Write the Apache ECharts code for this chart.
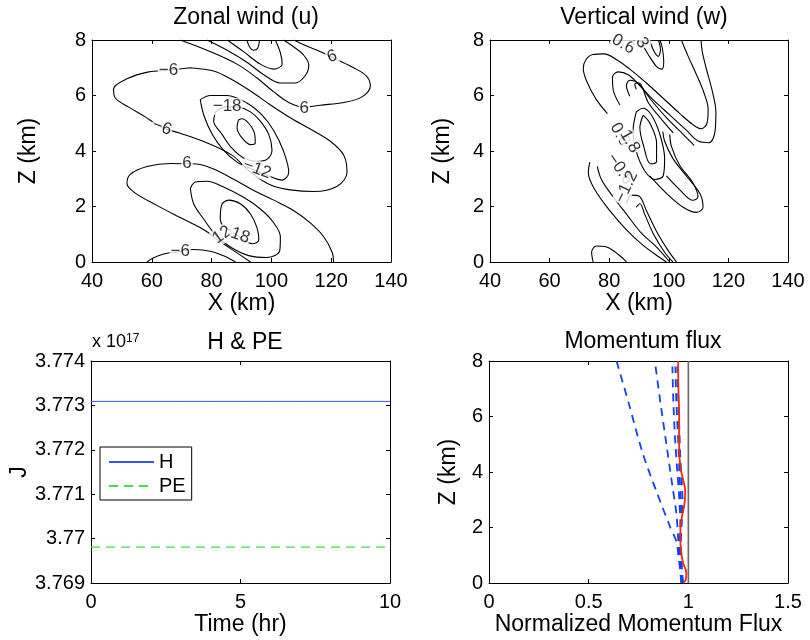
<!DOCTYPE html>
<html><head><meta charset="utf-8">
<script src="https://cdn.jsdelivr.net/npm/echarts@6/dist/echarts.min.js"></script>
<style>html,body{margin:0;padding:0;background:#fff}#c{width:810px;height:640px}</style>
</head><body><div id="c"></div>
<script>
// ---------- Zonal wind (u) contour lines: [x km, z km] ----------
const uPos6Top = [[69.5,8],[79.6,7.58],[88.5,7.13],[95.2,6.63],[100.8,6.13],[105.8,5.75],[110.8,5.58],[116.4,5.65],[124.2,5.75],[130.3,5.95],[133.1,6.35],[131.8,6.7],[127.5,7.0],[122.0,7.29],[116.4,7.58],[111.4,7.8],[107.5,8]];
const uPos12Top = [[78.5,8],[85.2,7.63],[91.8,7.2],[97.4,6.75],[103.0,6.45],[108.0,6.45],[111.4,6.73],[112.5,7.1],[110.6,7.48],[107.5,7.75],[104.1,8]];
const uPos18Top = [[85.2,8],[90.7,7.58],[96.3,7.13],[100.8,6.95],[103.6,7.13],[103.0,7.54],[101.3,8]];
const uPos24Top = [[91.8,8],[92.7,7.75],[94.0,7.63],[95.4,7.7],[96.0,8]];
const uNeg6Mid = [[72.9,7.0],[65.6,6.91],[59.0,6.85],[51.7,6.6],[47.2,6.23],[47.8,5.91],[52.3,5.58],[57.8,5.23],[63.4,4.85],[69.5,4.64],[78.5,4.29],[86.8,3.85],[91.8,3.35],[96.3,2.98],[100.8,2.73],[106.3,2.6],[114.1,2.54],[122.0,2.73],[125.3,3.23],[124.2,3.85],[119.7,4.35],[113.0,4.79],[106.3,5.2],[99.7,5.66],[93.0,6.16],[86.3,6.6],[80.7,6.88],[72.9,7.0]];
const uNeg12Mid = [[76.2,5.85],[77.4,5.29],[80.2,4.6],[83.9,4.04],[88.5,3.6],[93.5,3.35],[99.1,3.1],[103.6,2.95],[105.8,3.23],[104.1,3.98],[100.8,4.73],[96.9,5.29],[91.8,5.73],[85.2,6.0],[79.6,6.0],[76.2,5.85]];
const uNeg18Mid = [[81.3,5.41],[80.7,5.08],[83.5,4.6],[86.8,4.1],[90.7,3.75],[95.2,3.63],[98.5,3.7],[100.2,4.04],[99.1,4.6],[96.3,5.08],[93.0,5.41],[89.0,5.58],[85.2,5.6],[81.3,5.41]];
const uNeg24Mid = [[89.0,5.12],[88.5,4.85],[90.1,4.48],[93.0,4.23],[94.6,4.29],[94.3,4.66],[92.4,5.0],[90.1,5.16],[89.0,5.12]];
const uPos6Low = [[120.8,0],[120.3,0.35],[117.5,0.91],[113.0,1.41],[107.5,1.85],[100.8,2.23],[94.1,2.58],[87.4,2.98],[80.7,3.35],[75.1,3.53],[71.8,3.54],[66.2,3.55],[58.4,3.44],[52.8,3.16],[51.7,2.83],[54.5,2.48],[61.7,2.04],[69.5,1.6],[77.4,1.16],[82.9,0.73],[88.5,0.33],[93.0,0]];
const uPos12Low = [[72.9,2.66],[74.0,2.1],[77.4,1.54],[81.3,0.98],[86.3,0.54],[92.4,0.23],[98.5,0.16],[102.8,0.41],[103.0,0.91],[100.5,1.45],[96.3,1.91],[90.7,2.33],[84.0,2.7],[78.5,2.91],[74.6,2.88],[72.9,2.66]];
const uPos18Low = [[82.9,1.54],[83.3,2.04],[85.7,2.23],[89.6,2.1],[93.0,1.73],[95.2,1.23],[95.8,0.79],[93.5,0.66],[89.6,0.88],[86.3,1.13],[83.5,1.35],[82.9,1.54]];
const uNeg6Bot = [[58.4,0],[60.1,0.13],[64.0,0.29],[69.5,0.38],[74.0,0.45],[79.6,0.39],[84.6,0.2],[88.0,0]];
const uLabels = [[120.3,7.41,'6'],[65.6,6.91,'\u22126'],[111.0,5.54,'6'],[85.2,5.6,'\u221218'],[63.4,4.85,'\u22126'],[95.2,3.35,'\u221212'],[71.8,3.54,'6'],[83.5,0.98,'12'],[89.6,0.95,'18'],[69.5,0.38,'\u22126']];
const uLabelTilt = [20,0,0,0,-20,-20,0,35,-20,0];

// ---------- Vertical wind (w) contour lines ----------
const wA1 = [[90.3,8],[93.1,7.475],[95.9,7.04],[97.6,6.95],[98.3,7.225],[97.8,7.73],[97.0,8]];
const wA2 = [[93.6,8],[95.0,7.6],[96.5,7.41],[97.2,7.66],[96.5,8]];
const wC1 = [[79.4,5.35],[75.7,5.85],[72.6,6.475],[71.3,6.975],[72.2,7.29],[74.6,7.475],[78.2,7.5],[82.4,7.3],[86.9,6.95],[92.5,6.45],[98.1,5.9],[103.7,5.35],[108.1,4.95],[110.9,4.8],[112.8,5.0],[113.2,5.5],[111.8,6.1],[109.3,6.75],[106.5,7.41],[104.2,8]];
const wC2 = [[83.6,5.66],[81.3,6.225],[81.1,6.66],[83.0,6.85],[86.4,6.75],[90.3,6.35],[94.7,5.85],[100.3,5.3],[105.9,4.75],[110.0,4.35],[113.5,4.3],[115.5,4.7],[115.8,5.4],[114.5,6.2],[112.5,7.0],[111.2,7.6],[110.8,8]];
const wC3 = [[86.9,5.975],[85.8,6.35],[86.9,6.55],[89.7,6.45],[93.6,5.9],[99.2,5.2],[104.8,4.6],[108.5,4.2]];
const wC4 = [[89.1,6.225],[88.6,6.4],[90.0,6.45],[93.1,5.75],[97.5,5.15],[101.5,4.65]];
const wE1 = [[91.4,5.29],[90.3,4.85],[91.6,4.16],[93.8,3.54],[95.9,3.625],[95.9,4.29],[93.8,4.975],[91.4,5.29]];
const wE2 = [[89.1,5.41],[88.0,4.725],[89.1,3.975],[91.9,3.29],[95.3,2.975],[98.1,3.1],[98.6,3.725],[97.0,4.6],[94.2,5.29],[91.4,5.54],[89.1,5.41]];
const wL1 = [[73.5,3.6],[73.0,3.225],[75.2,2.6],[80.2,1.85],[85.8,1.16],[91.4,0.6],[97.0,0.16],[99.2,0]];
const wL2 = [[76.0,3.45],[77.4,2.975],[81.3,2.35],[85.8,1.725],[90.8,1.04],[95.9,0.54],[100.3,0]];
const wR1 = [[93.6,3.1],[99.2,2.475],[104.8,1.975],[109.3,1.79],[111.5,1.975],[110.4,2.475],[105.9,3.1],[101.4,3.725],[98.6,4.35],[98.0,4.7]];
const wR2 = [[99.2,3.1],[103.7,2.6],[108.1,2.225],[109.8,2.35],[108.1,2.85],[103.7,3.475],[100.9,4.16],[100.3,4.6]];
const wB1 = [[74.6,0],[74.1,0.35],[75.7,0.575],[79.1,0.54],[83.6,0.225],[85.8,0]];
const wN1 = [[85.8,2.1],[87.5,2.41],[90.0,2.375],[92.5,1.85],[95.9,1.1],[99.8,0.41],[102.6,0]];
const wN2 = [[89.1,1.975],[90.3,2.1],[91.9,1.725],[94.7,1.04],[98.6,0.35],[101.4,0]];
const wLabels = [[83.6,3.35,'\u22120.6'],[85.8,2.7,'\u22121.2'],[83.6,4.6,'0.6'],[86.9,4.35,'1.8'],[84.7,7.85,'0.6'],[91.0,7.9,'3']];
const wLabelTilt = [-55,65,-60,-60,-30,-60];

// ---------- H & PE (x 10^17 J) ----------
const timeHr = [0,1,2,3,4,5,6,7,8,9,10];
const hVals  = [3.77309,3.77309,3.77309,3.77309,3.77309,3.77309,3.77309,3.77309,3.77309,3.77309,3.77309];
const peVals = [3.76981,3.76981,3.76981,3.76981,3.76981,3.76981,3.76981,3.76981,3.76981,3.76981,3.76981];
const jTicks = [3.769,3.77,3.771,3.772,3.773,3.774];

// ---------- Momentum flux: [normalized flux, z km] ----------
const mfRed = [[0.974,0],[0.987,0.12],[0.99,0.36],[0.974,0.72],[0.965,1.08],[0.96,1.56],[0.96,1.98],[0.97,2.46],[0.982,2.93],[0.984,3.35],[0.974,3.71],[0.96,4.19],[0.954,4.91],[0.954,5.99],[0.95,7.07],[0.949,8]];
const mfBlue1 = [[0.965,0],[0.96,0.4],[0.95,1.0],[0.94,1.5],[0.91,2.0],[0.84,3.3],[0.77,4.7],[0.70,6.5],[0.64,8]];
const mfBlue2 = [[0.965,0],[0.96,0.5],[0.95,1.5],[0.94,2.5],[0.92,3.5],[0.89,5],[0.86,6.5],[0.832,8]];
const mfBlue3 = [[0.97,0],[0.96,0.6],[0.955,1.3],[0.96,2],[0.955,3],[0.945,4],[0.935,5],[0.925,6.5],[0.92,7.8]];
const mfBlue4 = [[0.97,0],[0.965,0.8],[0.96,1.5],[0.965,2.2],[0.962,3],[0.955,4],[0.95,5],[0.94,6.5],[0.935,7.8]];
const mfBlue5 = [[0.975,0],[0.97,0.3],[0.962,1.2],[0.965,2],[0.972,2.7],[0.968,3.5],[0.96,4.5],[0.955,5.5],[0.95,6.5],[0.945,7.8]];
const mfRef = [[1,0],[1,8]];

// ---------- build chart ----------
const FONT = '"Liberation Sans", Arial, Helvetica, sans-serif';
const grids = [
  {left:92, top:40, width:299, height:222},
  {left:490, top:40, width:298, height:222},
  {left:91, top:361, width:299, height:222},
  {left:489, top:361, width:299, height:222}
];
const axCfg = [
  {x:[40,140,20], y:[0,8,2], xn:'X (km)', yn:'Z (km)', xg:26, yg:52},
  {x:[40,140,20], y:[0,8,2], xn:'X (km)', yn:'Z (km)', xg:26, yg:36},
  {x:[0,10,5], y:[3.769,3.774,0.001], xn:'Time (hr)', yn:'J', xg:27, yg:57},
  {x:[0,1.5,0.5], y:[0,8,2], xn:'Normalized Momentum Flux', yn:'Z (km)', xg:29, yg:29}
];
const xAxis = [], yAxis = [];
const baseLine = {show:true, onZero:false, lineStyle:{color:'#000', width:1}};
const baseTick = {show:true, inside:true, length:4, lineStyle:{color:'#000'}};
const nameStyle = {fontSize:23, color:'#000', fontFamily:FONT};
function fmt(v){ return String(parseFloat(Number(v).toFixed(4))); }
axCfg.forEach((a, gi) => {
  xAxis.push({type:'value', gridIndex:gi, position:'bottom', min:a.x[0], max:a.x[1], interval:a.x[2],
    axisLine:baseLine, axisTick:baseTick, splitLine:{show:false},
    axisLabel:{fontSize:20, color:'#000', fontFamily:FONT, margin:9, formatter:fmt},
    name:a.xn, nameLocation:'middle', nameGap:a.xg, nameTextStyle:nameStyle});
  xAxis.push({type:'value', gridIndex:gi, position:'top', min:a.x[0], max:a.x[1], interval:a.x[2],
    axisLine:baseLine, axisTick:baseTick, splitLine:{show:false}, axisLabel:{show:false}});
  yAxis.push({type:'value', gridIndex:gi, position:'left', min:a.y[0], max:a.y[1], interval:a.y[2],
    axisLine:baseLine, axisTick:baseTick, splitLine:{show:false},
    axisLabel:{fontSize:20, color:'#000', fontFamily:FONT, margin:6, formatter:fmt},
    name:a.yn, nameLocation:'middle', nameGap:a.yg, nameRotate:90, nameTextStyle:nameStyle});
  yAxis.push({type:'value', gridIndex:gi, position:'right', min:a.y[0], max:a.y[1], interval:a.y[2],
    axisLine:baseLine, axisTick:baseTick, splitLine:{show:false}, axisLabel:{show:false}});
});

const series = [];
function contour(gi, pts) {
  series.push({type:'line', xAxisIndex:2*gi, yAxisIndex:2*gi, data:pts, symbol:'none', smooth:0.35,
    lineStyle:{color:'#000', width:1.1}, silent:true, animation:false, z:2});
}
function labels(gi, arr, tilt) {
  series.push({type:'scatter', xAxisIndex:2*gi, yAxisIndex:2*gi, symbolSize:1, itemStyle:{color:'rgba(0,0,0,0)'},
    data: arr.map((d,i)=>({value:[d[0],d[1]], name:d[2], label:{rotate:tilt[i]}})),
    label:{show:true, position:'inside', formatter:p=>p.name, fontSize:17, color:'#000', fontFamily:FONT,
      backgroundColor:'#fff', padding:[0,1]}, silent:true, animation:false, z:5});
}
[uPos6Top,uPos12Top,uPos18Top,uPos24Top,uNeg6Mid,uNeg12Mid,uNeg18Mid,uNeg24Mid,uPos6Low,uPos12Low,uPos18Low,uNeg6Bot].forEach(c=>contour(0,c));
labels(0, uLabels, uLabelTilt);
[wA1,wA2,wC1,wC2,wC3,wC4,wE1,wE2,wL1,wL2,wR1,wR2,wB1,wN1,wN2].forEach(c=>contour(1,c));
labels(1, wLabels, wLabelTilt);

series.push({type:'line', name:'H', xAxisIndex:4, yAxisIndex:4, data:timeHr.map((t,i)=>[t,hVals[i]]), symbol:'none',
  lineStyle:{color:'#3355ff', width:1}, itemStyle:{color:'#3355ff'}, animation:false});
series.push({type:'line', name:'PE', xAxisIndex:4, yAxisIndex:4, data:timeHr.map((t,i)=>[t,peVals[i]]), symbol:'none',
  lineStyle:{color:'#44dd44', width:1.3, type:[9,6]}, itemStyle:{color:'#44dd44'}, animation:false});

series.push({type:'line', xAxisIndex:6, yAxisIndex:6, data:mfRef, symbol:'none', lineStyle:{color:'#6a6a6a', width:1.6}, animation:false});
[mfBlue1,mfBlue2,mfBlue3,mfBlue4,mfBlue5].forEach(b=>series.push({type:'line', xAxisIndex:6, yAxisIndex:6, data:b, symbol:'none', smooth:0.3,
  lineStyle:{color:'#1540f0', width:1.8, type:[8,6]}, animation:false}));
series.push({type:'line', xAxisIndex:6, yAxisIndex:6, data:mfRed, symbol:'none', smooth:0.4, lineStyle:{color:'#f02a10', width:1.8}, animation:false, z:4});

const titleStyle = {fontSize:23, fontWeight:'normal', color:'#000', fontFamily:FONT};
const option = {
  backgroundColor:'#fff', animation:false,
  title:[
    {text:'Zonal wind (u)', left:241, top:1, textAlign:'center', textStyle:titleStyle},
    {text:'Vertical wind (w)', left:639, top:1, textAlign:'center', textStyle:titleStyle},
    {text:'H & PE', left:240, top:326, textAlign:'center', textStyle:titleStyle},
    {text:'Momentum flux', left:638, top:325, textAlign:'center', textStyle:titleStyle}
  ],
  legend:{data:['H','PE'], orient:'vertical', left:100, top:447, width:90, padding:[5,6,4,8], itemGap:4,
    itemWidth:45, itemHeight:12, itemStyle:{opacity:0}, borderColor:'#000', borderWidth:1, backgroundColor:'#fff',
    textStyle:{fontSize:20, color:'#000', fontFamily:FONT}},
  graphic:[{type:'text', left:92, top:333, style:{text:'{a|x 10}{b|17}', rich:{a:{fontSize:18, fontFamily:FONT, fill:'#000', verticalAlign:'bottom'}, b:{fontSize:12, fontFamily:FONT, fill:'#000', verticalAlign:'top'}}}}],
  grid:grids, xAxis, yAxis, series
};
const chart = echarts.init(document.getElementById('c'), null, {renderer:'canvas'});
chart.setOption(option);
</script></body></html>
